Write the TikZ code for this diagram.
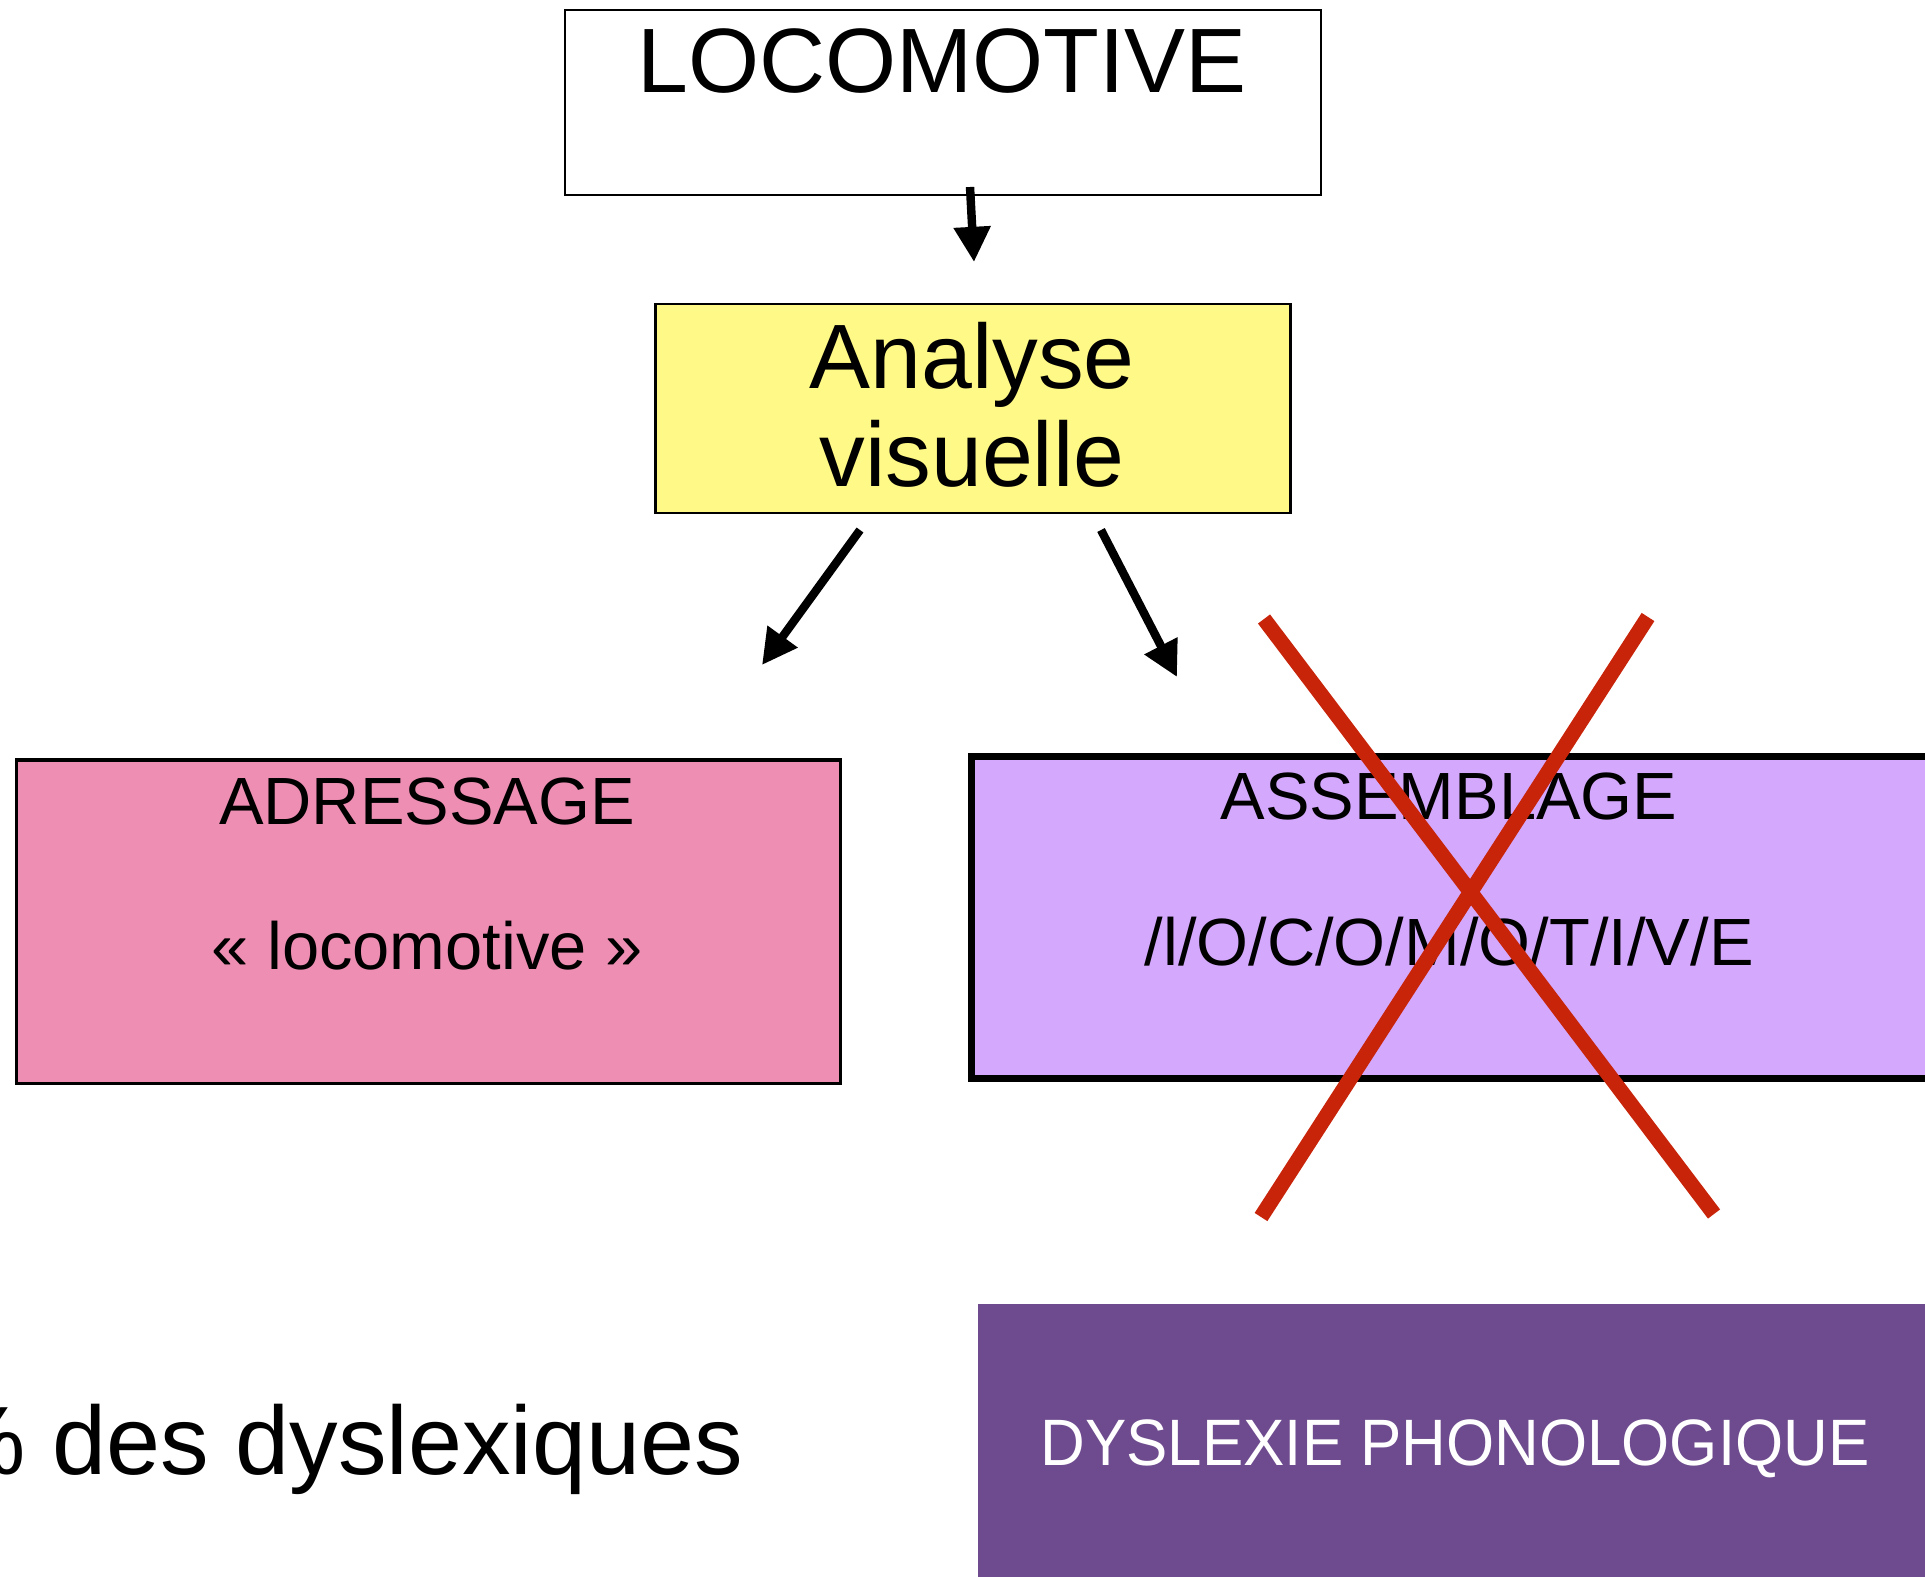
\documentclass[tikz,border=0pt]{standalone}
\usepackage{fontspec}
\setmainfont{Liberation Sans}
\usetikzlibrary{arrows.meta}
\definecolor{boxyellow}{RGB}{255,249,135}
\definecolor{boxpink}{RGB}{238,142,179}
\definecolor{boxlav}{RGB}{212,168,252}
\definecolor{boxpurple}{RGB}{110,75,142}
\definecolor{xred}{RGB}{200,36,10}
\tikzset{
  box/.style={draw=black, inner sep=0pt, outer sep=0pt},
  txt/.style={anchor=base, inner sep=0pt, outer sep=0pt},
  arr/.style={line width=2.4pt, -{Triangle[width=10pt,length=10pt]}},
  cross/.style={xred, line width=4.3pt},
  big/.style={font=\fontsize{26}{28}\selectfont},
  mid/.style={font=\fontsize{19}{22}\selectfont},
}
\begin{document}
\begin{tikzpicture}[x=0.01cm,y=-0.01cm]
\useasboundingbox (0,0) rectangle (1925,1576);
\clip (0,0) rectangle (1925,1576);
\fill[white] (0,0) rectangle (1925,1576);

% boxes
\node[box, line width=0.7pt, fill=white, minimum width=7.56cm, minimum height=1.85cm] (loco) at (943,102.5) {};
\node[box, line width=0.8pt, fill=boxyellow, minimum width=6.34cm, minimum height=2.09cm] (ana) at (973,408.5) {};
\node[box, line width=0.9pt, fill=boxpink, minimum width=8.23cm, minimum height=3.23cm] (adr) at (428.5,921.5) {};
\node[box, line width=2pt, fill=boxlav, minimum width=9.80cm, minimum height=3.21cm] (ass) at (1462,917.5) {};
\node[box, draw=none, fill=boxpurple, minimum width=9.70cm, minimum height=2.80cm] (dys) at (1463,1444) {};

% texts
\node[txt, big] (tloco) at (942,93) {LOCOMOTIVE};
\node[txt, big] (tana1) at (972,388) {Analyse};
\node[txt, big] (tana2) at (972,486) {visuelle};
\node[txt, mid] (tadr1) at (427,824) {ADRESSAGE};
\node[txt, mid] (tadr2) at (427,969) {« locomotive »};
\node[txt, mid] (tass1) at (1449,819) {ASSEMBLAGE};
\node[txt, mid] (tass2) at (1449,965) {/l/O/C/O/M/O/T/I/V/E};
\node[txt, white, font=\fontsize{17.6}{20}\selectfont, yscale=1.06] (tdys) at (1455,1465) {DYSLEXIE PHONOLOGIQUE};
\node[inner sep=0pt, outer sep=0pt, anchor=base east, font=\fontsize{27.6}{30}\selectfont] (pct) at (743,1474) {\% des dyslexiques};

% arrows
\coordinate (a1s) at (970,187);
\coordinate (a1e) at (974,262);
\coordinate (a2s) at (860,530);
\coordinate (a2e) at (762,665);
\coordinate (a3s) at (1101,530);
\coordinate (a3e) at (1177,677);
\draw[arr] (a1s) -- (a1e);
\draw[arr] (a2s) -- (a2e);
\draw[arr] (a3s) -- (a3e);

% red cross
\coordinate (xa1) at (1264,619);
\coordinate (xa2) at (1714,1214);
\coordinate (xb1) at (1648,617);
\coordinate (xb2) at (1261,1217);
\draw[cross] (xa1) -- (xa2);
\draw[cross] (xb1) -- (xb2);
\end{tikzpicture}
\end{document}
